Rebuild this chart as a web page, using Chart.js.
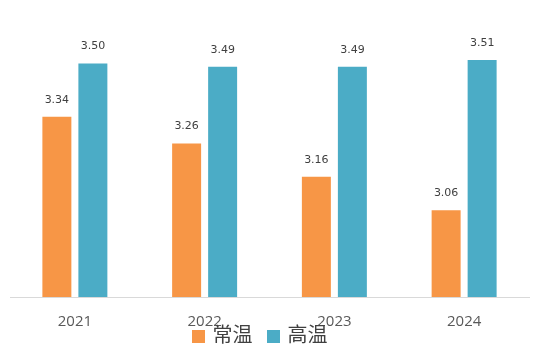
<!DOCTYPE html>
<html>
<head>
<meta charset="utf-8">
<script src="https://cdn.jsdelivr.net/npm/chart.js@4/dist/chart.umd.min.js"></script>
<style>
  html, body { margin: 0; padding: 0; background: #fff; }
  #wrap { position: relative; width: 535px; height: 354px; }
  #legend {
    position: absolute; left: 0; right: 16px; top: 321px; text-align: center;
    font-family: "Noto Sans CJK SC", sans-serif; font-size: 20px; color: #404040;
    line-height: 26px;
  }
  #legend span.box { display: inline-block; width: 13px; height: 13px; margin: 0 8px 0 0; vertical-align: -1px; }
  #legend span.item { margin: 0 7px; }
</style>
</head>
<body>
<div id="wrap">
  <canvas id="chart" width="535" height="354"></canvas>
  <div id="legend"></div>
</div>
<script>
  // --- datos ---
  var years = ['2021', '2022', '2023', '2024'];
  var seriesNames = ['常温', '高温'];
  var normalTemp = [3.34, 3.26, 3.16, 3.06];
  var highTemp = [3.50, 3.49, 3.49, 3.51];
  var colors = ['#F79646', '#4BACC6'];

  // --- etiquetas de valor sobre cada barra ---
  var valueLabels = {
    id: 'valueLabels',
    afterDatasetsDraw: function (chart) {
      var ctx = chart.ctx;
      ctx.save();
      ctx.font = '11px "DejaVu Sans", sans-serif';
      ctx.fillStyle = '#404040';
      ctx.textAlign = 'center';
      ctx.textBaseline = 'middle';
      chart.data.datasets.forEach(function (ds, i) {
        chart.getDatasetMeta(i).data.forEach(function (bar, j) {
          ctx.fillText(ds.data[j].toFixed(2), bar.x, bar.y - 17);
        });
      });
      ctx.restore();
    }
  };

  new Chart(document.getElementById('chart'), {
    type: 'bar',
    data: {
      labels: years,
      datasets: [
        { label: seriesNames[0], data: normalTemp, backgroundColor: colors[0] },
        { label: seriesNames[1], data: highTemp, backgroundColor: colors[1] }
      ]
    },
    options: {
      responsive: false,
      animation: false,
      layout: { padding: { left: 10, right: 6, top: 30, bottom: 15 } },
      datasets: { bar: { categoryPercentage: 0.555, barPercentage: 0.805 } },
      plugins: { legend: { display: false }, tooltip: { enabled: false } },
      scales: {
        x: {
          grid: { display: false },
          border: { display: true, color: '#d9d9d9', width: 1 },
          ticks: { color: '#595959', font: { family: '"Open Sans", sans-serif', size: 15 }, padding: 8 }
        },
        y: { display: false, min: 2.8, max: 3.6 }
      }
    },
    plugins: [valueLabels]
  });

  // leyenda
  var legend = document.getElementById('legend');
  seriesNames.forEach(function (name, i) {
    var item = document.createElement('span');
    item.className = 'item';
    item.innerHTML = '<span class="box" style="background:' + colors[i] + '"></span>' + name;
    legend.appendChild(item);
  });
</script>
</body>
</html>
